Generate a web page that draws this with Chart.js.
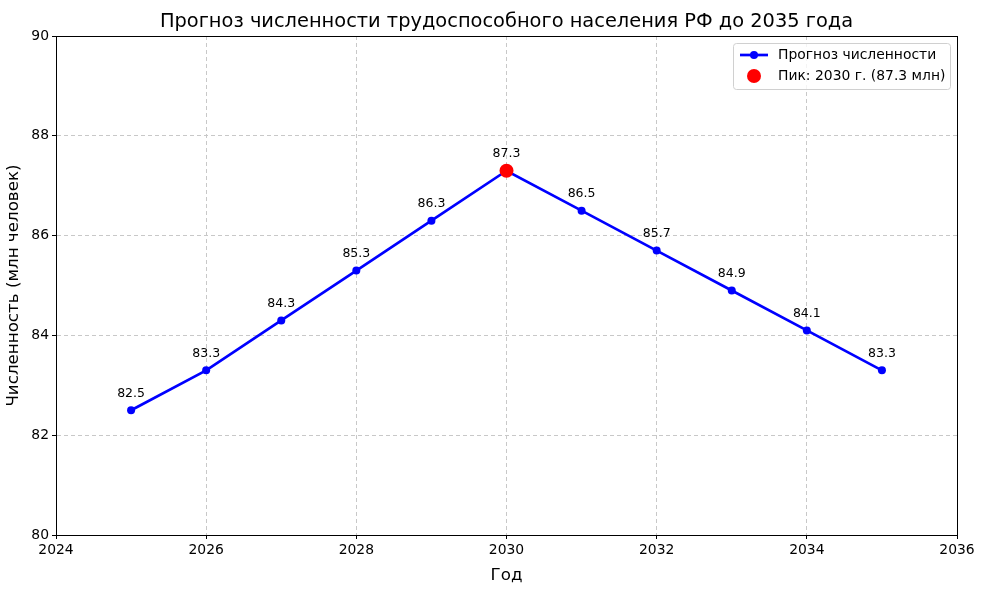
<!DOCTYPE html>
<html>
<head>
<meta charset="utf-8">
<script src="https://cdn.jsdelivr.net/npm/chart.js@4.4.1/dist/chart.umd.min.js"></script>
<style>
  html, body { margin: 0; padding: 0; background: #fff; }
  #wrap { width: 981px; height: 590px; }
</style>
</head>
<body>
<div id="wrap"><canvas id="chart" width="981" height="590"></canvas></div>
<script>
// forecast data
var years = [2025, 2026, 2027, 2028, 2029, 2030, 2031, 2032, 2033, 2034, 2035];
var population = [82.5, 83.3, 84.3, 85.3, 86.3, 87.3, 86.5, 85.7, 84.9, 84.1, 83.3];
var peakYear = 2030;
var peakValue = 87.3;
var xTicks = [2024, 2026, 2028, 2030, 2032, 2034, 2036];
var yTicks = [80, 82, 84, 86, 88, 90];

var FONT = "'DejaVu Sans', sans-serif";

var points = [];
for (var i = 0; i < years.length; i++) {
    points.push({x: years[i], y: population[i]});
}

// labels above each point, frame, title and legend
var extras = {
    id: 'extras',
    afterDatasetsDraw: function(chart) {
        var ctx = chart.ctx;
        var area = chart.chartArea;
        var meta = chart.getDatasetMeta(1);

        ctx.save();
        ctx.fillStyle = '#000';
        ctx.font = '12.5px ' + FONT;
        ctx.textAlign = 'center';
        ctx.textBaseline = 'middle';
        for (var i = 0; i < meta.data.length; i++) {
            var p = meta.data[i];
            ctx.fillText(population[i].toFixed(1), p.x, p.y - 17);
        }

        // full frame
        ctx.strokeStyle = '#000';
        ctx.lineWidth = 1;
        ctx.strokeRect(Math.round(area.left) + 0.5, Math.round(area.top) + 0.5,
            Math.round(area.right - area.left), Math.round(area.bottom - area.top));

        // title
        ctx.font = '19.4px ' + FONT;
        ctx.textBaseline = 'middle';
        ctx.fillText('Прогноз численности трудоспособного населения РФ до 2035 года',
            (area.left + area.right) / 2, 22);

        // legend
        var lx = area.right - 224, ly = area.top + 7, lw = 217, lh = 46;
        ctx.beginPath();
        ctx.roundRect(lx + 0.5, ly + 0.5, lw, lh, 3);
        ctx.fillStyle = 'rgba(255,255,255,0.8)';
        ctx.fill();
        ctx.strokeStyle = '#d0d0d0';
        ctx.stroke();

        ctx.strokeStyle = '#0000ff';
        ctx.lineWidth = 2.7;
        ctx.beginPath();
        ctx.moveTo(lx + 7, ly + 12);
        ctx.lineTo(lx + 35, ly + 12);
        ctx.stroke();
        ctx.fillStyle = '#0000ff';
        ctx.beginPath();
        ctx.arc(lx + 21, ly + 12, 4, 0, Math.PI * 2);
        ctx.fill();

        ctx.fillStyle = '#ff0000';
        ctx.beginPath();
        ctx.arc(lx + 21, ly + 33, 7, 0, Math.PI * 2);
        ctx.fill();

        ctx.fillStyle = '#000';
        ctx.font = '13.9px ' + FONT;
        ctx.textAlign = 'left';
        ctx.fillText('Прогноз численности', lx + 45, ly + 12);
        ctx.fillText('Пик: ' + peakYear + ' г. (' + peakValue + ' млн)', lx + 45, ly + 33);
        ctx.restore();
    }
};

new Chart(document.getElementById('chart'), {
    type: 'line',
    data: {
        datasets: [{
            label: 'Пик',
            data: [{x: peakYear, y: peakValue}],
            showLine: false,
            pointRadius: 7,
            pointHoverRadius: 7,
            pointBackgroundColor: '#ff0000',
            pointBorderWidth: 0,
            order: 0
        }, {
            label: 'Прогноз численности',
            data: points,
            borderColor: '#0000ff',
            borderWidth: 2.7,
            pointRadius: 4,
            pointHoverRadius: 4,
            pointBackgroundColor: '#0000ff',
            pointBorderWidth: 0,
            tension: 0,
            order: 1
        }]
    },
    options: {
        responsive: false,
        animation: false,
        events: [],
        layout: {padding: {top: 36, right: 24, left: 0, bottom: 0}},
        plugins: {legend: {display: false}, tooltip: {enabled: false}},
        scales: {
            x: {
                type: 'linear',
                min: 2024,
                max: 2036,
                afterBuildTicks: function(s) { s.ticks = xTicks.map(function(v) { return {value: v}; }); },
                afterFit: function(s) { s.height = 55; },
                ticks: {color: '#000', font: {family: FONT, size: 13.9}, padding: 3, maxRotation: 0,
                    callback: function(v) { return String(v); }},
                grid: {color: '#c8c8c8', tickColor: '#000', tickLength: 4, tickBorderDash: []},
                border: {display: true, color: '#000', dash: [4, 3]},
                title: {display: true, text: 'Год', color: '#000', font: {family: FONT, size: 16.7}, padding: {top: 2}}
            },
            y: {
                min: 80,
                max: 90,
                afterBuildTicks: function(s) { s.ticks = yTicks.map(function(v) { return {value: v}; }); },
                afterFit: function(s) { s.width = 56; },
                ticks: {color: '#000', font: {family: FONT, size: 13.9}, padding: 3},
                grid: {color: '#c8c8c8', tickColor: '#000', tickLength: 4, tickBorderDash: []},
                border: {display: true, color: '#000', dash: [4, 3]},
                title: {display: true, text: 'Численность (млн человек)', color: '#000', font: {family: FONT, size: 16.7}, padding: {bottom: 4}}
            }
        }
    },
    plugins: [extras]
});
</script>
</body>
</html>
